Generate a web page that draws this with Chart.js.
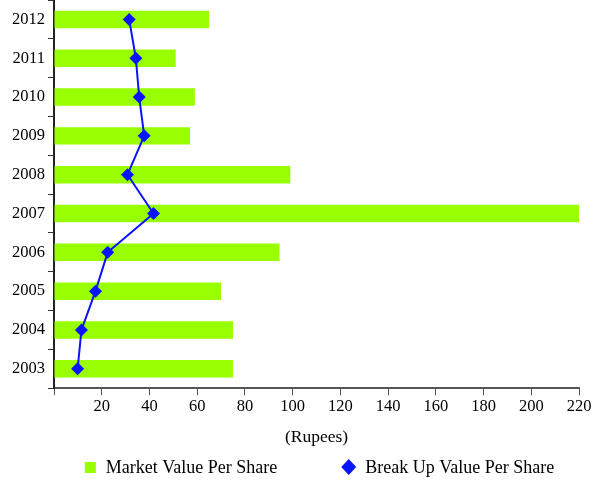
<!DOCTYPE html>
<html>
<head>
<meta charset="utf-8">
<script src="https://cdn.jsdelivr.net/npm/chart.js@4/dist/chart.umd.min.js"></script>
<style>
  html, body { margin: 0; padding: 0; background: #fff; }
  #wrap { width: 600px; height: 481px; }
</style>
</head>
<body>
<div id="wrap"><canvas id="grafico"></canvas></div>
<script>
const anos = ['2012', '2011', '2010', '2009', '2008', '2007', '2006', '2005', '2004', '2003'];
const valorMercado = [65, 51, 59, 57, 99, 220, 94.5, 70, 75, 75];
const valorBreakUp = [31.5, 34.3, 35.7, 37.8, 30.8, 41.7, 22.5, 17.4, 11.5, 9.9];
const ticksX = [0, 20, 40, 60, 80, 100, 120, 140, 160, 180, 200, 220];

const familia = '"Liberation Serif", "Times New Roman", serif';
const fonteTicks = { family: familia, size: 16.5 };
const fonteTitulo = { family: familia, size: 17.5 };
const fonteLegenda = { family: familia, size: 18 };
const verde = '#99ff00';
const azul = '#0a14ff';

// legenda desenhada a mao para ter o espaco largo entre os dois itens
const legendaPlugin = {
  id: 'legendaLarga',
  afterDraw(chart) {
    const ctx = chart.ctx;
    const area = chart.chartArea;
    const y = 467;
    const t1 = 'Market Value Per Share';
    const t2 = 'Break Up Value Per Share';
    ctx.save();
    ctx.font = `${fonteLegenda.size}px ${fonteLegenda.family}`;
    ctx.textBaseline = 'middle';
    const w1 = ctx.measureText(t1).width;
    const w2 = ctx.measureText(t2).width;
    const item1 = 11 + 10 + w1;
    const item2 = 15 + 9 + w2;
    const gap = 64;
    let x = (area.left + area.right) / 2 - (item1 + gap + item2) / 2 + 3;

    ctx.fillStyle = verde;
    ctx.fillRect(x, y - 5, 11, 11);
    ctx.fillStyle = '#000';
    ctx.fillText(t1, x + 21, y + 1);
    x += item1 + gap;

    ctx.fillStyle = azul;
    ctx.beginPath();
    ctx.moveTo(x + 7.5, y - 8);
    ctx.lineTo(x + 15, y);
    ctx.lineTo(x + 7.5, y + 8);
    ctx.lineTo(x, y);
    ctx.closePath();
    ctx.fill();
    ctx.fillStyle = '#000';
    ctx.fillText(t2, x + 24, y + 1);
    ctx.restore();
  }
};

new Chart(document.getElementById('grafico'), {
  data: {
    labels: anos,
    datasets: [
      {
        type: 'line',
        label: 'Break Up Value Per Share',
        data: valorBreakUp,
        borderColor: azul,
        backgroundColor: azul,
        borderWidth: 2,
        pointStyle: 'rectRot',
        pointRadius: 6.5,
        pointHoverRadius: 6.5,
        pointBorderWidth: 0,
        tension: 0,
        order: 0
      },
      {
        type: 'bar',
        label: 'Market Value Per Share',
        data: valorMercado,
        backgroundColor: verde,
        borderWidth: 0,
        barPercentage: 0.45,
        categoryPercentage: 1,
        order: 1
      }
    ]
  },
  options: {
    indexAxis: 'y',
    responsive: true,
    maintainAspectRatio: false,
    animation: false,
    layout: { autoPadding: false, padding: { top: 0, right: 21, bottom: 29, left: 9 } },
    plugins: {
      legend: { display: false },
      tooltip: { enabled: false }
    },
    scales: {
      x: {
        type: 'linear',
        min: 0,
        max: 220,
        afterBuildTicks: (escala) => { escala.ticks = ticksX.map(v => ({ value: v })); },
        grid: { drawOnChartArea: false, tickLength: 7, color: '#555', lineWidth: 1 },
        border: { color: '#555', width: 2 },
        ticks: {
          font: fonteTicks,
          color: '#000',
          padding: 2,
          maxRotation: 0,
          callback: (v) => v === 0 ? '' : v
        },
        title: {
          display: true,
          text: '(Rupees)',
          font: fonteTitulo,
          color: '#000',
          padding: { top: 8, bottom: 4 }
        }
      },
      y: {
        type: 'category',
        offset: true,
        // as categorias ja ficam no meio das faixas, sem folga extra em cima e embaixo
        afterFit: (escala) => { escala.paddingTop = 0; escala.paddingBottom = 0; },
        grid: { drawOnChartArea: false, offset: true, tickLength: 6, color: '#333', lineWidth: 1 },
        border: { color: '#222', width: 2 },
        ticks: { font: fonteTicks, color: '#000', padding: 3 }
      }
    }
  },
  plugins: [legendaPlugin]
});
</script>
</body>
</html>
